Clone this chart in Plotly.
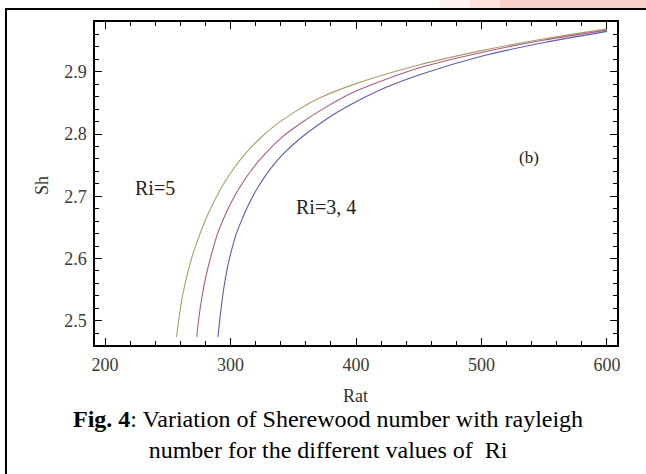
import plotly.graph_objects as go

# ---- data ----
ra_ri5 = [257, 259, 261, 263, 266, 270, 275, 280, 286, 293, 302, 312, 323, 335, 350, 370, 400, 450, 500, 550, 600]
sh_ri5 = [2.474, 2.505, 2.532, 2.552, 2.578, 2.607, 2.636, 2.662, 2.688, 2.715, 2.743, 2.769, 2.792, 2.813, 2.834, 2.857, 2.881, 2.911, 2.934, 2.953, 2.969]

ra_ri4 = [273, 275, 277, 279, 282, 285, 289, 294, 300, 307.5, 317, 327.5, 340, 355, 375, 400, 450, 500, 550, 600]
sh_ri4 = [2.474, 2.508, 2.535, 2.558, 2.585, 2.608, 2.636, 2.662, 2.688, 2.715, 2.743, 2.768, 2.793, 2.816, 2.842, 2.869, 2.906, 2.931, 2.951, 2.967]

ra_ri3 = [290, 291.5, 293, 295, 297.5, 300, 304, 309, 315, 322, 331, 342, 355, 370, 385, 400, 425, 450, 500, 550, 600]
sh_ri3 = [2.474, 2.503, 2.528, 2.557, 2.585, 2.607, 2.636, 2.662, 2.689, 2.715, 2.742, 2.768, 2.792, 2.815, 2.835, 2.852, 2.876, 2.895, 2.925, 2.947, 2.965]

x_ticks = [200, 300, 400, 500, 600]
y_ticks = [2.5, 2.6, 2.7, 2.8, 2.9]

series = [
    ("Ri=5", ra_ri5, sh_ri5, "rgb(160,140,80)"),
    ("Ri=4", ra_ri4, sh_ri4, "rgb(155,65,115)"),
    ("Ri=3", ra_ri3, sh_ri3, "rgb(65,65,155)"),
]

fig = go.Figure()
for name, xs, ys, col in series:
    fig.add_trace(go.Scatter(x=xs, y=ys, mode="lines", name=name,
                             line=dict(color=col, width=1.1, shape="spline", smoothing=0.8),
                             opacity=0.85, showlegend=False))

serif = "Liberation Serif, Times New Roman, serif"
L, R, T, B = 95, 29, 22, 129
W, H = 646, 474
pw, ph = W - L - R, H - T - B

def px(x):
    return (x - L) / pw

def py(y):
    return (H - B - y) / ph

axis_common = dict(showgrid=False, zeroline=False, showline=True, linecolor="black",
                   linewidth=1.5, mirror="allticks", ticks="inside", ticklen=7,
                   tickwidth=1.2, tickcolor="black",
                   tickfont=dict(family=serif, size=18, color="#3a3a3a"))

fig.update_xaxes(range=[192, 608], tickvals=x_ticks, ticklabelstandoff=3,
                 minor=dict(dtick=20, tick0=200, ticks="inside", ticklen=4, tickwidth=1, tickcolor="black"),
                 **axis_common)
fig.update_yaxes(range=[2.461, 2.98], tickvals=y_ticks, ticklabelstandoff=3,
                 minor=dict(dtick=0.02, tick0=2.5, ticks="inside", ticklen=4, tickwidth=1, tickcolor="black"),
                 **axis_common)

shapes = []
# pink decoration at top right
for x0, x1, op in [(440, 470, 0.15), (470, 500, 0.35), (500, 646, 0.55)]:
    shapes.append(dict(type="rect", xref="paper", yref="paper", x0=px(x0), x1=px(x1),
                       y0=py(8), y1=py(0), fillcolor="rgb(245,170,160)", opacity=op,
                       line=dict(width=0), layer="below"))
# outer frame
shapes.append(dict(type="path", xref="paper", yref="paper",
                   path=f"M {px(6)} {py(474)} L {px(6)} {py(9)} L {px(646)} {py(9)}",
                   line=dict(color="black", width=2)))

def ann(text, x, y, size, color="#222", xref="x", yref="y", angle=0):
    return dict(text=text, x=x, y=y, xref=xref, yref=yref, showarrow=False,
                xanchor="center", yanchor="middle", textangle=angle,
                font=dict(family=serif, size=size, color=color))

annotations = [
    ann("Ri=5", 240, 2.713, 20),
    ann("Ri=3, 4", 376, 2.683, 20),
    ann("(b)", 538, 2.763, 17),
    ann("Rat", px(355), py(396), 18, "#333", "paper", "paper"),
    ann("Sh", px(42), py(186), 18, "#333", "paper", "paper", -90),
    ann("<b>Fig. 4</b>: Variation of Sherewood number with rayleigh<br>"
        "number for the different values of  Ri", px(328), py(434), 24,
        "black", "paper", "paper"),
]

fig.update_layout(width=W, height=H, autosize=False,
                  margin=dict(l=L, r=R, t=T, b=B, pad=0),
                  paper_bgcolor="white", plot_bgcolor="white",
                  shapes=shapes, annotations=annotations)

fig.write_html("out.html")
